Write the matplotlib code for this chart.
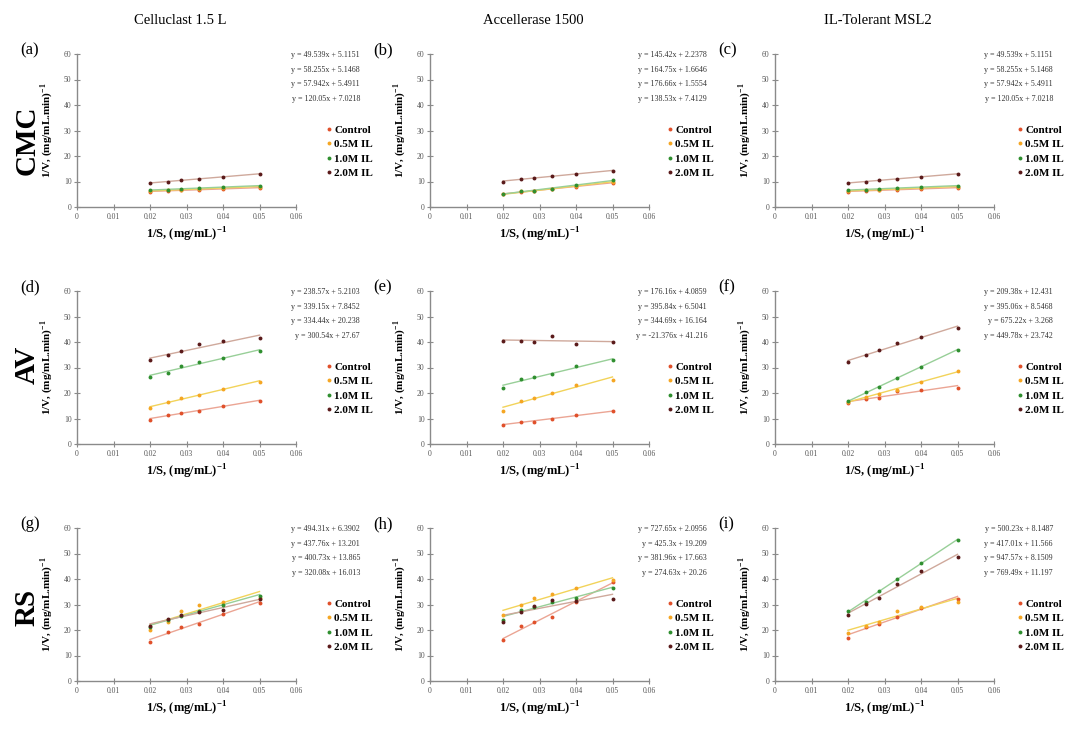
import numpy as np
import matplotlib.pyplot as plt

plt.rcParams['font.family'] = ['Liberation Serif', 'DejaVu Serif']

# 1/S values (x) shared by all panels
inv_s = [0.02, 0.025, 0.0286, 0.0333, 0.04, 0.05]
series = ['Control', '0.5M IL', '1.0M IL', '2.0M IL']
enzymes = ['Celluclast 1.5 L', 'Accellerase 1500', 'IL-Tolerant MSL2']
substrates = ['CMC', 'AV', 'RS']
tags = ['(a)', '(b)', '(c)', '(d)', '(e)', '(f)', '(g)', '(h)', '(i)']
xticks = [0, 0.01, 0.02, 0.03, 0.04, 0.05, 0.06]
xtick_labels = ['0', '0.01', '0.02', '0.03', '0.04', '0.05', '0.06']
yticks = [0, 10, 20, 30, 40, 50, 60]

# 1/V values, one row per series (Control, 0.5M, 1.0M, 2.0M)
a_v = [[6.0, 6.3, 6.6, 6.8, 7.1, 7.6],
       [6.2, 6.5, 6.8, 7.1, 7.5, 8.0],
       [6.8, 6.8, 7.0, 7.4, 7.7, 8.2],
       [9.6, 9.8, 10.4, 10.9, 11.6, 13.0]]
a_slope = [49.539, 58.255, 57.942, 120.05]
a_icpt = [5.1151, 5.1468, 5.4911, 7.0218]

b_v = [[5.0, 6.0, 6.3, 7.0, 7.8, 9.5],
       [5.0, 6.1, 6.4, 7.2, 8.2, 10.0],
       [5.1, 6.2, 6.4, 7.2, 8.5, 10.5],
       [9.8, 11.0, 11.5, 12.3, 12.9, 14.0]]
b_slope = [145.42, 164.75, 176.66, 138.53]
b_icpt = [2.2378, 1.6646, 1.5554, 7.4129]

c_v = [[6.0, 6.3, 6.6, 6.8, 7.1, 7.6],
       [6.2, 6.5, 6.8, 7.1, 7.5, 8.0],
       [6.8, 6.8, 7.0, 7.4, 7.7, 8.2],
       [9.6, 9.8, 10.4, 10.9, 11.6, 13.0]]
c_slope = [49.539, 58.255, 57.942, 120.05]
c_icpt = [5.1151, 5.1468, 5.4911, 7.0218]

d_v = [[9.6, 11.4, 12.2, 12.9, 15.0, 16.8],
       [14.1, 16.4, 18.0, 19.3, 21.6, 24.5],
       [26.4, 28.0, 30.4, 32.1, 33.8, 36.4],
       [32.8, 34.8, 36.3, 39.3, 40.3, 41.5]]
d_slope = [238.57, 339.15, 334.44, 300.54]
d_icpt = [5.2103, 7.8452, 20.238, 27.67]

e_v = [[7.6, 8.5, 8.8, 9.8, 11.2, 12.8],
       [13.0, 16.7, 18.2, 20.1, 23.3, 25.0],
       [21.9, 25.5, 26.4, 27.3, 30.4, 32.8],
       [40.5, 40.3, 40.0, 42.4, 39.3, 40.0]]
e_slope = [176.16, 395.84, 344.69, -21.376]
e_icpt = [4.0859, 6.5041, 16.164, 41.216]

f_v = [[16.1, 17.5, 18.2, 20.6, 21.0, 22.1],
       [16.5, 18.3, 19.8, 21.2, 24.2, 28.7],
       [17.0, 20.2, 22.3, 25.8, 30.3, 37.0],
       [32.0, 35.0, 36.7, 39.5, 41.9, 45.5]]
f_slope = [209.38, 395.06, 675.22, 449.78]
f_icpt = [12.431, 8.5468, 3.268, 23.742]

g_v = [[15.3, 19.2, 21.2, 22.5, 26.2, 30.6],
       [20.0, 23.0, 27.3, 30.0, 31.0, 32.5],
       [21.0, 24.0, 25.3, 27.5, 30.0, 33.4],
       [21.7, 24.5, 25.8, 27.0, 27.8, 32.0]]
g_slope = [494.31, 437.76, 400.73, 320.08]
g_icpt = [6.3902, 13.201, 13.865, 16.013]

h_v = [[16.0, 21.5, 23.0, 25.2, 31.0, 39.0],
       [25.8, 30.0, 32.6, 34.0, 36.4, 39.5],
       [24.0, 27.8, 29.0, 31.0, 32.5, 36.3],
       [23.3, 27.0, 29.3, 31.6, 31.2, 32.3]]
h_slope = [727.65, 425.3, 381.96, 274.63]
h_icpt = [2.0956, 19.209, 17.663, 20.26]

i_v = [[17.0, 21.0, 22.5, 25.0, 28.5, 32.3],
       [18.8, 21.5, 23.0, 27.6, 29.2, 30.8],
       [27.4, 31.0, 35.3, 40.0, 46.4, 55.2],
       [26.0, 30.2, 32.7, 38.0, 43.0, 48.5]]
i_slope = [500.23, 417.01, 947.57, 769.49]
i_icpt = [8.1487, 11.566, 8.1509, 11.197]

panels = [(a_v, a_slope, a_icpt), (b_v, b_slope, b_icpt), (c_v, c_slope, c_icpt),
          (d_v, d_slope, d_icpt), (e_v, e_slope, e_icpt), (f_v, f_slope, f_icpt),
          (g_v, g_slope, g_icpt), (h_v, h_slope, h_icpt), (i_v, i_slope, i_icpt)]

dot_colors = ['#e0502a', '#f5a623', '#2f8f2f', '#5a1a1a']
fit_colors = ['#eba594', '#f2d35a', '#98cf98', '#cfa99c']

W, H = 1068, 734
col_left = [77, 430, 775]
row_top = [54, 291, 528]
ax_w, ax_h = 219, 153
eq_off = [64, 58, 59]
leg_off = [31, 19, 24]

fig = plt.figure(figsize=(W / 100, H / 100), dpi=100)

for k, (vals, slopes, icpts) in enumerate(panels):
    r, c = divmod(k, 3)
    ax = fig.add_axes([col_left[c] / W, 1 - (row_top[r] + ax_h) / H, ax_w / W, ax_h / H])
    xs = np.array(inv_s)
    for j in range(4):
        xl = np.array([inv_s[0], inv_s[-1]])
        ax.plot(xl, slopes[j] * xl + icpts[j], color=fit_colors[j], lw=1.0, zorder=2)
    for j in range(4):
        ax.plot(xs, vals[j], 'o', ms=2.8, color=dot_colors[j], mec='none',
                label=series[j], zorder=3)
    ax.set_xlim(0, 0.06)
    ax.set_ylim(0, 60)
    ax.set_xticks(xticks)
    ax.set_xticklabels(xtick_labels)
    ax.set_yticks(yticks)
    for s in ['top', 'right']:
        ax.spines[s].set_visible(False)
    for s in ['left', 'bottom']:
        ax.spines[s].set_color('#8a8a8a')
        ax.spines[s].set_linewidth(1.0)
    ax.tick_params(direction='inout', length=4, width=0.8, color='#8a8a8a',
                   labelsize=5.5, labelcolor='#555555', pad=2)
    ax.set_xlabel('1/S, (mg/mL)$^{\\mathregular{-1}}$', fontsize=9, fontweight='bold')
    ax.set_ylabel('1/V, (mg/mL.min)$^{\\mathregular{-1}}$', fontsize=8, fontweight='bold')
    ax.xaxis.set_label_coords(0.5, -0.125)
    ax.yaxis.set_label_coords(-0.1, 0.5)
    # trendline equations
    xr = 1 + eq_off[c] / ax_w
    for j in range(4):
        ax.text(xr, 1 - (1 + j * 14.7) / ax_h, 'y = %sx + %s' % (slopes[j], icpts[j]),
                transform=ax.transAxes, ha='right', va='center', fontsize=5.8,
                color='#333333')
    ax.legend(loc='upper left', bbox_to_anchor=(1 + leg_off[c] / ax_w, 1 - 71 / ax_h),
              frameon=False, handlelength=0.4, handletextpad=0.25,
              labelspacing=0.42, borderaxespad=0, borderpad=0,
              prop={'weight': 'bold', 'size': 8})
    fig.text((col_left[c] - 57) / W, 1 - (row_top[r] - 4) / H, tags[k],
             fontsize=12, ha='left', va='center')

for c in range(3):
    fig.text((col_left[c] + 103) / W, 1 - 20 / H, enzymes[c], fontsize=10.5,
             ha='center', va='center')

row_mid = [140, 365, 607]
for r in range(3):
    fig.text(27 / W, 1 - row_mid[r] / H, substrates[r], fontsize=21, fontweight='bold',
             rotation=90, ha='center', va='center')

plt.savefig('out.png', dpi=100)
